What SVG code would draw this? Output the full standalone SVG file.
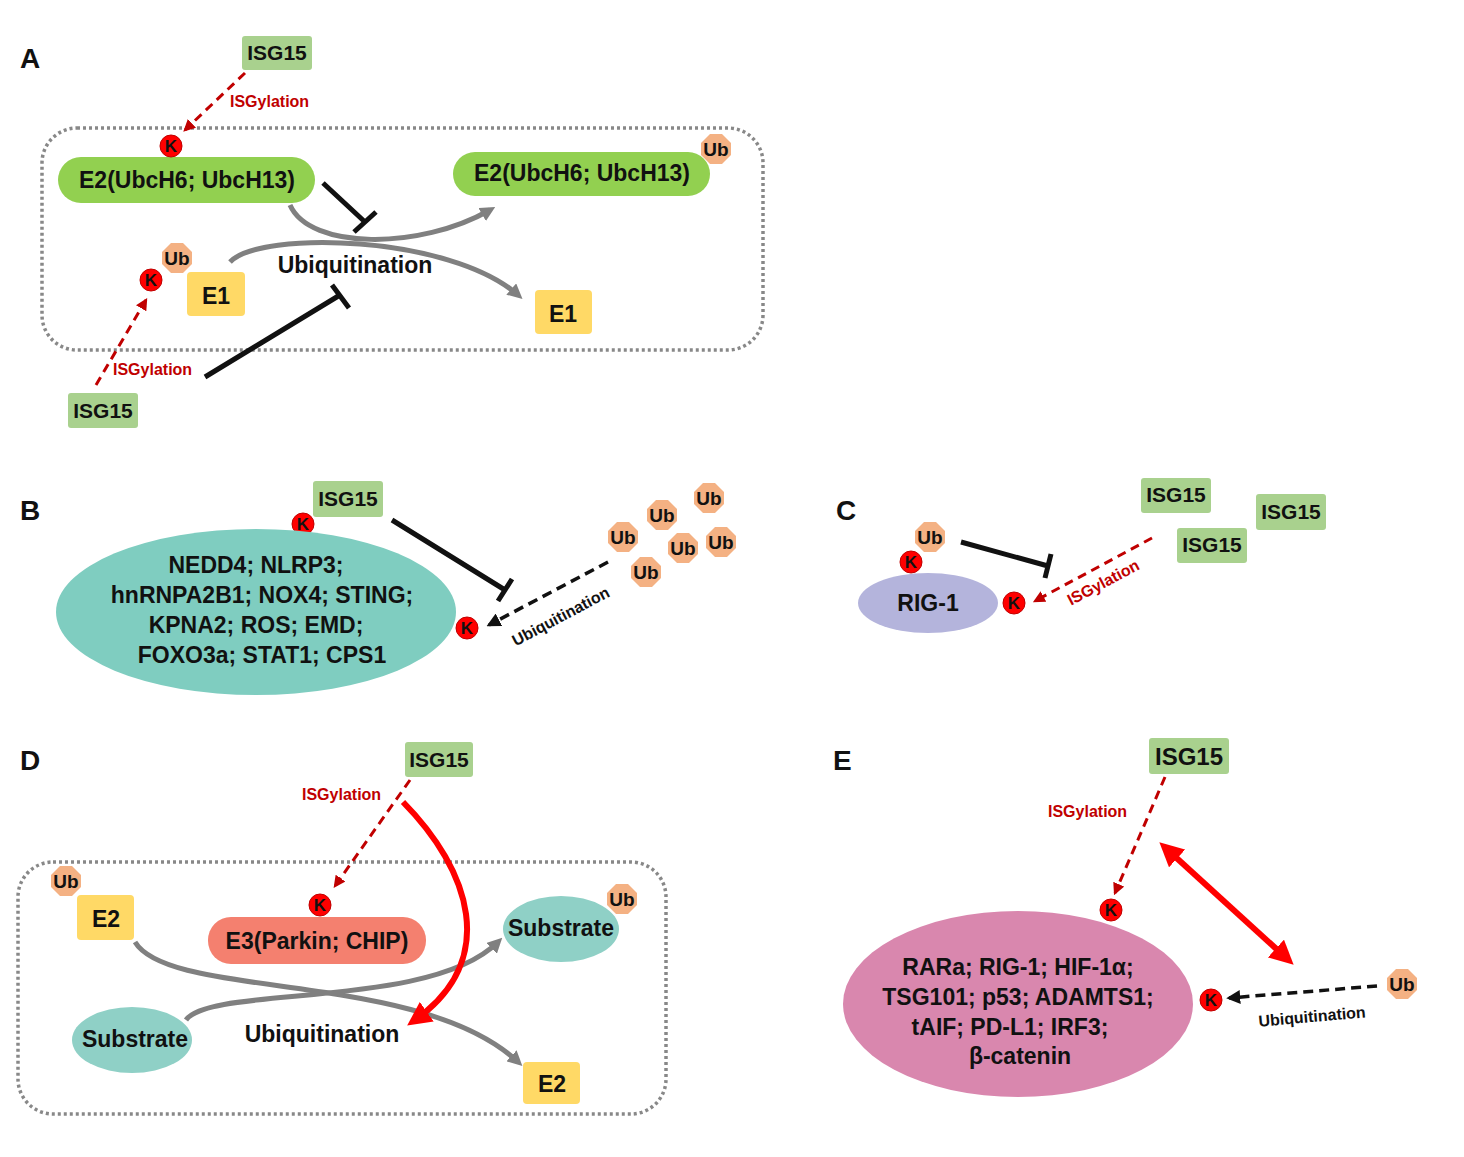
<svg xmlns="http://www.w3.org/2000/svg" xmlns:xlink="http://www.w3.org/1999/xlink" width="1464" height="1157" viewBox="0 0 1464 1157">
<style>
text{font-family:"Liberation Sans",Arial,sans-serif;font-weight:bold;fill:#111}
.lab{font-size:28px}
.isg{fill:#a9d18e}
.isgt{font-size:21px;text-anchor:middle}
.k{fill:#ff0000;stroke:#c00000;stroke-width:1}
.kt{font-size:17px;text-anchor:middle}
.ubt{font-size:19px;text-anchor:middle}
.red{font-size:16px;fill:#c00000}
.big{font-size:23px;text-anchor:middle}
.box{fill:none;stroke:#888;stroke-width:3.5;stroke-dasharray:3 3}
.dr{stroke:#c00000;stroke-width:3;stroke-dasharray:9 6;fill:none}
.db{stroke:#111;stroke-width:3.5;stroke-dasharray:10 6;fill:none}
.inh{stroke:#111;stroke-width:5;fill:none}
.gr{stroke:#808080;stroke-width:5;fill:none}
.yel{fill:#ffd966}
</style>
<defs>
<polygon id="ub" points="-6,-15 6,-15 15,-6 15,6 6,15 -6,15 -15,6 -15,-6" fill="#f4b183"/>
<marker id="ar" viewBox="0 0 10 10" refX="8" refY="5" markerWidth="4" markerHeight="4" orient="auto"><path d="M0,0L10,5L0,10z" fill="#c00000"/></marker>
<marker id="ab" viewBox="0 0 10 10" refX="8" refY="5" markerWidth="4" markerHeight="4" orient="auto"><path d="M0,0L10,5L0,10z" fill="#111"/></marker>
<marker id="ag" viewBox="0 0 10 10" refX="6" refY="5" markerWidth="3" markerHeight="3" orient="auto"><path d="M0,0L10,5L0,10z" fill="#808080"/></marker>
<marker id="arr" viewBox="0 0 10 10" refX="6" refY="5" markerWidth="4" markerHeight="4" orient="auto"><path d="M0,0L10,5L0,10z" fill="#ff0000"/></marker>
<marker id="arrs" viewBox="0 0 10 10" refX="4" refY="5" markerWidth="4" markerHeight="4" orient="auto-start-reverse"><path d="M0,0L10,5L0,10z" fill="#ff0000"/></marker>
</defs>

<text class="lab" x="20" y="68">A</text>
<text class="lab" x="20" y="520">B</text>
<text class="lab" x="836" y="520">C</text>
<text class="lab" x="20" y="770">D</text>
<text class="lab" x="833" y="770">E</text>

<g id="frames">
<rect class="box" x="42" y="128" width="721" height="222" rx="35"/>
<rect class="box" x="18" y="862" width="648" height="252" rx="35"/>
</g>

<g id="connectors">
<path class="dr" d="M245,73L185,130" marker-end="url(#ar)"/>
<path class="dr" d="M96,385L146,300" marker-end="url(#ar)"/>
<path class="inh" d="M323,183L365,222M354,232L376,212"/>
<path class="inh" d="M205,377L340,295M332,285L349,308"/>
<path class="gr" d="M290,205C310,250 420,250 490,210" marker-end="url(#ag)"/>
<path class="gr" d="M230,262C260,230 450,235 518,295" marker-end="url(#ag)"/>
<path class="inh" d="M392,520L505,590M498,601L512,579"/>
<path class="db" d="M608,562L489,625" marker-end="url(#ab)"/>
<path class="inh" d="M961,542L1048,566M1045,578L1051,554"/>
<path class="dr" d="M1152,538L1035,601" marker-end="url(#ar)"/>
<path class="dr" d="M410,780L335,886" marker-end="url(#ar)"/>
<path class="gr" d="M135,942C170,1000 420,970 518,1062" marker-end="url(#ag)"/>
<path class="gr" d="M186,1020C210,985 430,1010 498,942" marker-end="url(#ag)"/>
<path d="M403,802C470,870 500,960 415,1020" stroke="#ff0000" stroke-width="6" fill="none" marker-end="url(#arr)"/>
<path class="dr" d="M1165,777L1115,893" marker-end="url(#ar)"/>
<path d="M1170,852L1283,955" stroke="#ff0000" stroke-width="6" fill="none" marker-start="url(#arrs)" marker-end="url(#arrs)"/>
<path class="db" d="M1377,986L1229,998" marker-end="url(#ab)"/>
</g>

<g id="labels">
<text class="red" x="230" y="107">ISGylation</text>
<text class="red" x="113" y="375">ISGylation</text>
<text class="big" x="355" y="273">Ubiquitination</text>
<text x="560" y="622" font-size="16" text-anchor="middle" transform="rotate(-28 560 615)">Ubiquitination</text>
<text class="red" x="1103" y="588" text-anchor="middle" transform="rotate(-28 1103 582)">ISGylation</text>
<text class="red" x="302" y="800">ISGylation</text>
<text class="big" x="322" y="1042">Ubiquitination</text>
<text class="red" x="1048" y="817">ISGylation</text>
<text x="1312" y="1022" font-size="16" text-anchor="middle" transform="rotate(-5 1312 1016)">Ubiquitination</text>
</g>

<g id="A-isg15-top"><rect class="isg" x="242" y="36" width="70" height="34" rx="3"/><text class="isgt" x="277" y="60">ISG15</text></g>
<g id="A-isg15-bot"><rect class="isg" x="68" y="393" width="70" height="35" rx="3"/><text class="isgt" x="103" y="418">ISG15</text></g>
<g id="A-e2-left"><rect x="58" y="157" width="257" height="46" rx="23" fill="#92d050"/><text class="big" x="187" y="188">E2(UbcH6; UbcH13)</text>
<circle class="k" cx="171" cy="146" r="11"/><text class="kt" x="171" y="152">K</text></g>
<g id="A-e2-right"><rect x="453" y="152" width="257" height="44" rx="22" fill="#92d050"/><text class="big" x="582" y="181">E2(UbcH6; UbcH13)</text>
<use xlink:href="#ub" x="716" y="149"/><text class="ubt" x="716" y="156">Ub</text></g>
<g id="A-e1-left"><rect class="yel" x="187" y="272" width="58" height="44" rx="4"/><text class="big" x="216" y="304">E1</text>
<use xlink:href="#ub" x="177" y="258"/><text class="ubt" x="177" y="265">Ub</text>
<circle class="k" cx="151" cy="280" r="11"/><text class="kt" x="151" y="286">K</text></g>
<g id="A-e1-right"><rect class="yel" x="535" y="290" width="57" height="44" rx="4"/><text class="big" x="563" y="322">E1</text></g>

<g id="B-isg15"><rect class="isg" x="313" y="481" width="70" height="36" rx="3"/><text class="isgt" x="348" y="506">ISG15</text>
<circle class="k" cx="303" cy="524" r="11"/><text class="kt" x="303" y="530">K</text></g>
<g id="B-substrates"><ellipse cx="256" cy="612" rx="200" ry="83" fill="#7fcdc0"/>
<text class="big" x="256" y="573">NEDD4; NLRP3;</text>
<text class="big" x="262" y="603">hnRNPA2B1; NOX4; STING;</text>
<text class="big" x="256" y="633">KPNA2; ROS; EMD;</text>
<text class="big" x="262" y="663">FOXO3a; STAT1; CPS1</text>
<circle class="k" cx="467" cy="628" r="11"/><text class="kt" x="467" y="634">K</text></g>
<g id="B-ubs">
<use xlink:href="#ub" x="709" y="498"/><text class="ubt" x="709" y="505">Ub</text>
<use xlink:href="#ub" x="662" y="515"/><text class="ubt" x="662" y="522">Ub</text>
<use xlink:href="#ub" x="623" y="537"/><text class="ubt" x="623" y="544">Ub</text>
<use xlink:href="#ub" x="683" y="548"/><text class="ubt" x="683" y="555">Ub</text>
<use xlink:href="#ub" x="721" y="542"/><text class="ubt" x="721" y="549">Ub</text>
<use xlink:href="#ub" x="646" y="572"/><text class="ubt" x="646" y="579">Ub</text>
</g>

<g id="C-rig1"><ellipse cx="928" cy="603" rx="70" ry="30" fill="#b4b4dc"/><text class="big" x="928" y="611">RIG-1</text>
<use xlink:href="#ub" x="930" y="537"/><text class="ubt" x="930" y="544">Ub</text>
<circle class="k" cx="911" cy="562" r="11"/><text class="kt" x="911" y="568">K</text>
<circle class="k" cx="1014" cy="603" r="11"/><text class="kt" x="1014" y="609">K</text></g>
<g id="C-isg15s">
<rect class="isg" x="1141" y="478" width="70" height="35" rx="3"/><text class="isgt" x="1176" y="502">ISG15</text>
<rect class="isg" x="1256" y="494" width="70" height="36" rx="3"/><text class="isgt" x="1291" y="519">ISG15</text>
<rect class="isg" x="1177" y="528" width="70" height="35" rx="3"/><text class="isgt" x="1212" y="552">ISG15</text>
</g>

<g id="D-isg15"><rect class="isg" x="405" y="742" width="68" height="35" rx="3"/><text class="isgt" x="439" y="767">ISG15</text></g>
<g id="D-e3"><rect x="208" y="917" width="218" height="47" rx="23" fill="#f4806f"/><text class="big" x="317" y="949">E3(Parkin; CHIP)</text>
<circle class="k" cx="320" cy="905" r="11"/><text class="kt" x="320" y="911">K</text></g>
<g id="D-e2-left"><use xlink:href="#ub" x="66" y="881"/><text class="ubt" x="66" y="888">Ub</text>
<rect class="yel" x="77" y="895" width="57" height="45" rx="4"/><text class="big" x="106" y="927">E2</text></g>
<g id="D-sub-right"><ellipse cx="561" cy="929" rx="58" ry="33" fill="#8fd0c6"/><text class="big" x="561" y="936">Substrate</text>
<use xlink:href="#ub" x="622" y="899"/><text class="ubt" x="622" y="906">Ub</text></g>
<g id="D-sub-left"><ellipse cx="132" cy="1040" rx="60" ry="33" fill="#8fd0c6"/><text class="big" x="135" y="1047">Substrate</text></g>
<g id="D-e2-right"><rect class="yel" x="523" y="1062" width="57" height="42" rx="4"/><text class="big" x="552" y="1092">E2</text></g>

<g id="E-isg15"><rect class="isg" x="1149" y="738" width="80" height="36" rx="3"/><text x="1189" y="765" font-size="24" text-anchor="middle">ISG15</text></g>
<g id="E-substrates"><ellipse cx="1018" cy="1004" rx="175" ry="93" fill="#d987ae"/>
<text class="big" x="1018" y="975">RARa; RIG-1; HIF-1α;</text>
<text class="big" x="1018" y="1005">TSG101; p53; ADAMTS1;</text>
<text class="big" x="1010" y="1035">tAIF; PD-L1; IRF3;</text>
<text class="big" x="1020" y="1064">β-catenin</text>
<circle class="k" cx="1111" cy="910" r="11"/><text class="kt" x="1111" y="916">K</text>
<circle class="k" cx="1211" cy="1000" r="11"/><text class="kt" x="1211" y="1006">K</text></g>
<g id="E-ub"><use xlink:href="#ub" x="1402" y="984"/><text class="ubt" x="1402" y="991">Ub</text></g>
</svg>
